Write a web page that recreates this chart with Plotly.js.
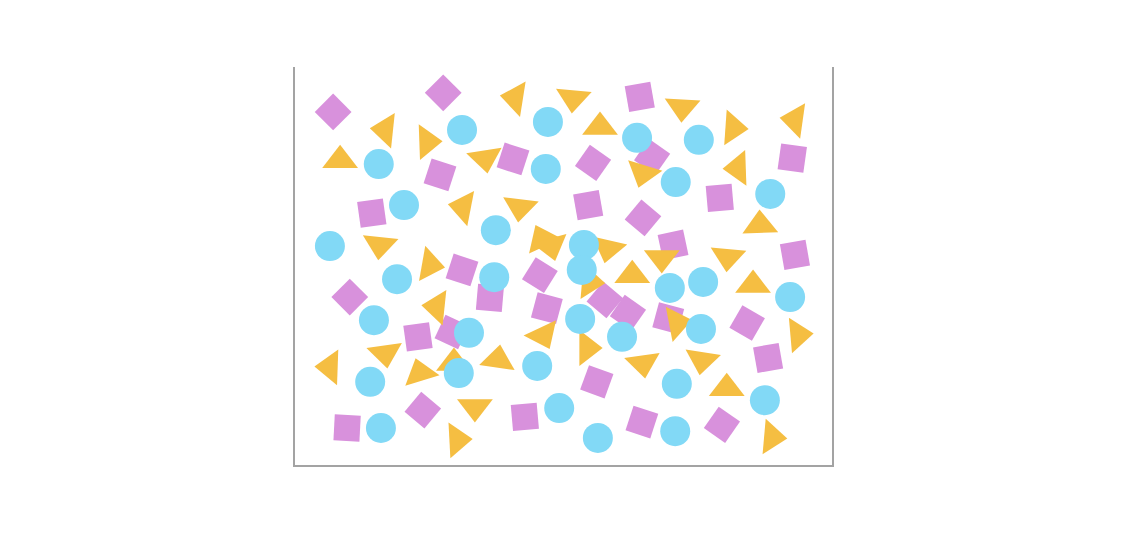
<!DOCTYPE html>
<html>
<head>
<meta charset="utf-8">
<script src="https://cdn.plot.ly/plotly-3.0.1.min.js"></script>
<style>
  body { margin: 0; background: #fff; }
  #chart { width: 1142px; height: 547px; }
</style>
</head>
<body>
<div id="chart"></div>
<script>
// circles
var circleX = [31.1, 47.1, 15.6, 46.7, 63.7, 75.2, 70.9, 88.5, 20.3, 37.4, 6.5, 53.8, 19.0, 37.1, 53.4, 69.8,
               76.0, 92.2, 14.7, 32.4, 53.1, 60.9, 75.6, 30.5, 45.1, 14.0, 71.1, 87.5, 49.2, 16.0, 56.4, 70.8];
var circleY = [84.2, 86.2, 75.6, 74.4, 82.2, 81.7, 71.1, 68.1, 65.3, 59.0, 55.0, 55.3, 46.7, 47.2, 49.0, 44.5,
               46.0, 42.2, 36.4, 33.2, 36.7, 32.2, 34.2, 23.1, 24.9, 20.9, 20.4, 16.3, 14.3, 9.3, 6.8, 8.5];

// squares
var squareX = [7.1, 27.6, 40.6, 27.0, 14.3, 64.2, 55.5, 66.5, 92.6, 54.6, 64.8, 79.1, 70.4, 93.1, 31.1, 36.3,
               10.2, 22.9, 29.2, 45.6, 46.9, 23.8, 9.7, 42.8, 57.7, 62.0, 69.5, 84.2, 88.1, 56.2, 64.6, 79.5];
var squareY = [88.7, 93.5, 76.9, 72.9, 63.3, 92.5, 75.9, 77.4, 77.1, 65.3, 62.1, 67.1, 55.3, 52.8, 49.0, 42.0,
               42.2, 32.2, 33.4, 47.7, 39.4, 13.8, 9.3, 12.1, 41.5, 38.2, 36.9, 35.7, 26.9, 20.9, 10.8, 10.1];
var squareAngle = [45, 45, 18, 18, -8, -10, 35, 35, 8, -10, 40, -5, -12, -10, 18, 5,
                   45, -8, 25, 32, 15, 40, 3, -5, 40, 35, 15, 30, -10, 20, 18, 35];

// triangles
var triX = [41.0, 51.8, 16.8, 24.6, 8.4, 35.4, 31.3, 41.9, 15.8, 46.0, 47.7, 25.1, 56.8, 72.1, 81.6, 93.1,
            82.5, 64.8, 86.6, 58.3, 80.6, 68.3, 62.8, 26.4, 16.8, 6.5, 23.3, 29.6, 37.8, 46.2, 33.5, 30.2,
            54.9, 85.3, 71.1, 93.7, 54.4, 64.8, 75.8, 80.4, 88.8];
var triY = [92.2, 92.2, 84.2, 81.2, 76.6, 77.1, 64.8, 64.8, 55.3, 56.8, 55.0, 50.3, 84.9, 89.9, 84.7, 86.7,
            74.6, 73.4, 60.3, 54.5, 52.3, 52.0, 47.7, 39.7, 28.1, 24.6, 23.1, 25.6, 26.4, 32.7, 14.6, 6.3,
            46.0, 45.2, 35.7, 32.7, 29.4, 25.6, 26.4, 19.3, 7.0];
var triAngle = [279, 185, 276, 88, 0, 171, 281, 187, 186, -25, 165, 100, 0, 183, 94, 278,
                268, 197, 358, 193, 185, 180, 0, 276, 172, 272, -17, 0, 8, 155, 180, 87,
                95, 0, 79, 85, 90, 172, 189, 0, 95];

var squares = {
    x: squareX,
    y: squareY,
    mode: 'markers',
    type: 'scatter',
    marker: { symbol: 'square', size: 26, color: '#d891dc', angle: squareAngle, line: { width: 0 } },
    hoverinfo: 'skip'
};

var triangles = {
    x: triX,
    y: triY,
    mode: 'markers',
    type: 'scatter',
    marker: { symbol: 'triangle-up', size: 31, color: '#f5be42', angle: triAngle, line: { width: 0 } },
    hoverinfo: 'skip'
};

var circles = {
    x: circleX,
    y: circleY,
    mode: 'markers',
    type: 'scatter',
    marker: { symbol: 'circle', size: 30, color: '#82d9f6', line: { width: 0 } },
    hoverinfo: 'skip'
};

Plotly.newPlot('chart', [squares, triangles, circles], {
    width: 1142,
    height: 547,
    margin: { l: 295, r: 310, t: 67, b: 82 },
    showlegend: false,
    paper_bgcolor: '#fff',
    plot_bgcolor: '#fff',
    xaxis: {
        range: [0, 100], showgrid: false, zeroline: false, showticklabels: false, ticks: '',
        showline: true, linecolor: '#a3a3a3', linewidth: 2
    },
    yaxis: {
        range: [0, 100], showgrid: false, zeroline: false, showticklabels: false, ticks: '',
        showline: true, mirror: true, linecolor: '#a3a3a3', linewidth: 2
    }
}, { staticPlot: true });
</script>
</body>
</html>
